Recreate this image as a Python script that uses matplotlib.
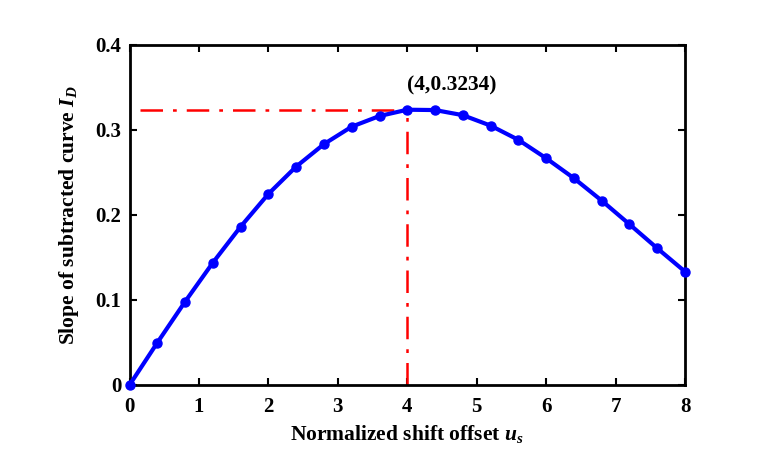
import matplotlib
matplotlib.use("Agg")
import matplotlib.pyplot as plt

x_vals = [0, 0.4, 0.8, 1.2, 1.6, 2.0, 2.4, 2.8, 3.2, 3.6, 4.0, 4.4, 4.8, 5.2, 5.6, 6.0, 6.4, 6.8, 7.2, 7.6, 8.0]
y_vals = [0, 0.0497, 0.0979, 0.1437, 0.186, 0.2245, 0.2566, 0.283, 0.3035, 0.316, 0.3234,
          0.323, 0.317, 0.3047, 0.288, 0.2664, 0.2429, 0.2166, 0.1888, 0.1606, 0.1332]
peak_x = 4
peak_y = 0.3234
xticks = [0, 1, 2, 3, 4, 5, 6, 7, 8]
yticks = [0, 0.1, 0.2, 0.3, 0.4]
ytick_labels = ["0", "0.1", "0.2", "0.3", "0.4"]

plt.rcParams['font.family'] = ['Liberation Serif', 'DejaVu Serif']
plt.rcParams['font.weight'] = 'bold'
plt.rcParams['mathtext.fontset'] = 'custom'
plt.rcParams['mathtext.it'] = 'Liberation Serif:italic:bold'
plt.rcParams['mathtext.rm'] = 'Liberation Serif:bold'

fig = plt.figure(figsize=(7.78, 4.58), dpi=100)
ax = fig.add_axes([0.1665, 0.1594, 0.714, 0.7434])

ax.plot([0.15, peak_x], [peak_y, peak_y], color='#ff0000', lw=1.8, linestyle=(0, (9, 4, 1.5, 4)))
ax.plot([peak_x, peak_x], [0, peak_y], color='#ff0000', lw=1.8, linestyle=(0, (9, 4, 1.5, 4)))
ax.plot(x_vals, y_vals, color='#0000ff', lw=3.0, marker='o', markersize=6.5, zorder=3, clip_on=False)

ax.text(peak_x, 0.352, "(4,0.3234)", fontsize=15.5, fontweight='bold', ha='left', va='center')

ax.set_xlim(0, 8)
ax.set_ylim(0, 0.4)
ax.set_xticks(xticks)
ax.set_yticks(yticks)
ax.set_yticklabels(ytick_labels)
ax.tick_params(direction='in', length=5, width=1.5, labelsize=15, top=True, right=True)
ax.tick_params(axis='x', pad=9)
ax.tick_params(axis='y', pad=6)
for lab in ax.get_xticklabels() + ax.get_yticklabels():
    lab.set_fontweight('bold')
for s in ax.spines.values():
    s.set_linewidth(2)

ax.set_xlabel(r"Normalized shift offset $u_s$", fontsize=15.5, fontweight='bold', labelpad=4)
ax.set_ylabel(r"Slope of subtracted curve $I_D$", fontsize=15.5, fontweight='bold', labelpad=10)

fig.savefig("out.png", dpi=100)
